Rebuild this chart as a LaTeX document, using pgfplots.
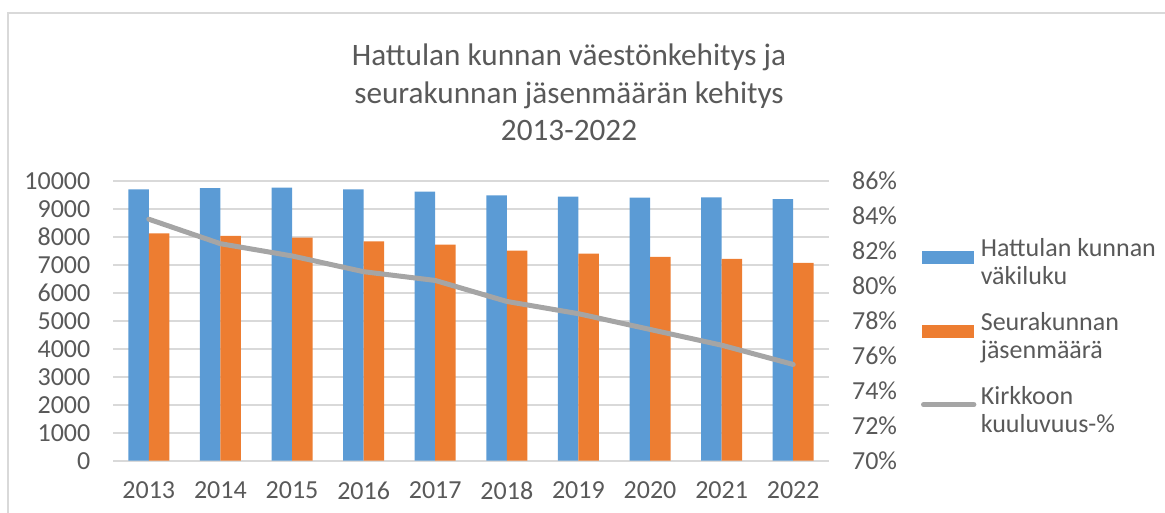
\documentclass[border=0pt]{standalone}
\usepackage{fontspec}
\setmainfont{Carlito}
\usepackage{pgfplots}
\pgfplotsset{compat=1.18}

\definecolor{bblue}{HTML}{5B9BD5}
\definecolor{borange}{HTML}{ED7D31}
\definecolor{lgray}{HTML}{A5A5A5}
\definecolor{txt}{HTML}{595959}
\definecolor{gridc}{HTML}{D9D9D9}

\begin{document}
\begin{tikzpicture}
\useasboundingbox (-56.5pt,-26.15pt) rectangle (526pt,230.35pt);
% light frame (left and top edges only visible)
\draw[gridc, line width=0.8pt] (-52.5pt,-40pt) -- (-52.5pt,223.85pt) -- (560pt,223.85pt);

\pgfplotsset{
  every axis/.append style={
    scale only axis, width=358pt, height=140pt,
    at={(0,0)}, anchor=south west,
    xmin=-0.5, xmax=9.5,
    major tick length=0pt,
    tick label style={font=\fontsize{13}{14}\selectfont, text=txt},
    /pgf/number format/assume math mode=true,
  }
}

\begin{axis}[
  ybar=0pt, bar width=10.25pt,
  ymin=0, ymax=10000, ytick distance=1000,
  scaled y ticks=false,
  yticklabel style={/pgf/number format/1000 sep={}, anchor=east, inner sep=0pt, xshift=-11.15pt},
  xtick=data,
  xticklabels={2013,2014,2015,2016,2017,2018,2019,2020,2021,2022},
  xticklabel style={anchor=north, inner sep=0pt, yshift=-10.5pt},
  axis x line*=bottom, axis y line*=left,
  x axis line style={draw=gridc, line width=1pt, -},
  y axis line style={draw=none},
  ymajorgrids, grid style={draw=gridc, line width=1pt},
  legend style={at={(1.1285,0.7986)}, anchor=north west, draw=none, fill=none,
    inner sep=0pt, outer sep=0pt, row sep=9pt,
    font=\fontsize{13}{14}\selectfont, text=txt,
    nodes={inner sep=0pt, text depth=18.2pt, text height=9.8pt},
    /tikz/every odd column/.append style={column sep=2.2pt}},
  legend cell align=left,
]
\addplot[fill=bblue, draw=none,
  legend image code/.code={\fill[bblue] (0pt,0.55pt) rectangle (25.8pt,7.05pt);}]
  coordinates {(0,9693) (1,9739) (2,9750) (3,9693) (4,9607) (5,9478) (6,9429) (7,9393) (8,9405) (9,9346)};
\addlegendentry{\begin{tabular}[t]{@{}l@{}}Hattulan kunnan\\väkiluku\end{tabular}}
\addplot[fill=borange, draw=none,
  legend image code/.code={\fill[borange] (0pt,0.55pt) rectangle (25.8pt,7.05pt);}]
  coordinates {(0,8121) (1,8025) (2,7964) (3,7833) (4,7714) (5,7500) (6,7393) (7,7275) (8,7204) (9,7061)};
\addlegendentry{\begin{tabular}[t]{@{}l@{}}Seurakunnan\\jäsenmäärä\end{tabular}}
\addlegendimage{legend image code/.code={\draw[lgray, line width=2.5pt, line cap=round] (0.6pt,4.2pt) -- (25.8pt,4.2pt);}}
\addlegendentry{\begin{tabular}[t]{@{}l@{}}Kirkkoon\\kuuluvuus-\%\end{tabular}}
\end{axis}

\begin{axis}[
  ymin=70, ymax=86, ytick={70,72,74,76,78,80,82,84,86},
  yticklabels={70\%,72\%,74\%,76\%,78\%,80\%,82\%,84\%,86\%},
  yticklabel style={anchor=west, inner sep=0pt, xshift=11.35pt},
  axis y line*=right, y axis line style={draw=none},
  axis x line=none,
]
\addplot[lgray, line width=2.5pt, line cap=round, line join=round, mark=none]
  coordinates {(0,83.8) (1,82.4) (2,81.7) (3,80.8) (4,80.3) (5,79.1) (6,78.4) (7,77.5) (8,76.6) (9,75.5)};
\end{axis}

\node[anchor=north, align=center, text=txt, font=\fontsize{15.6}{18.75}\selectfont, inner sep=0pt]
  at (228pt,208.6pt)
  {Hattulan kunnan väestönkehitys ja\\seurakunnan jäsenmäärän kehitys\\2013-2022};
\end{tikzpicture}
\end{document}
